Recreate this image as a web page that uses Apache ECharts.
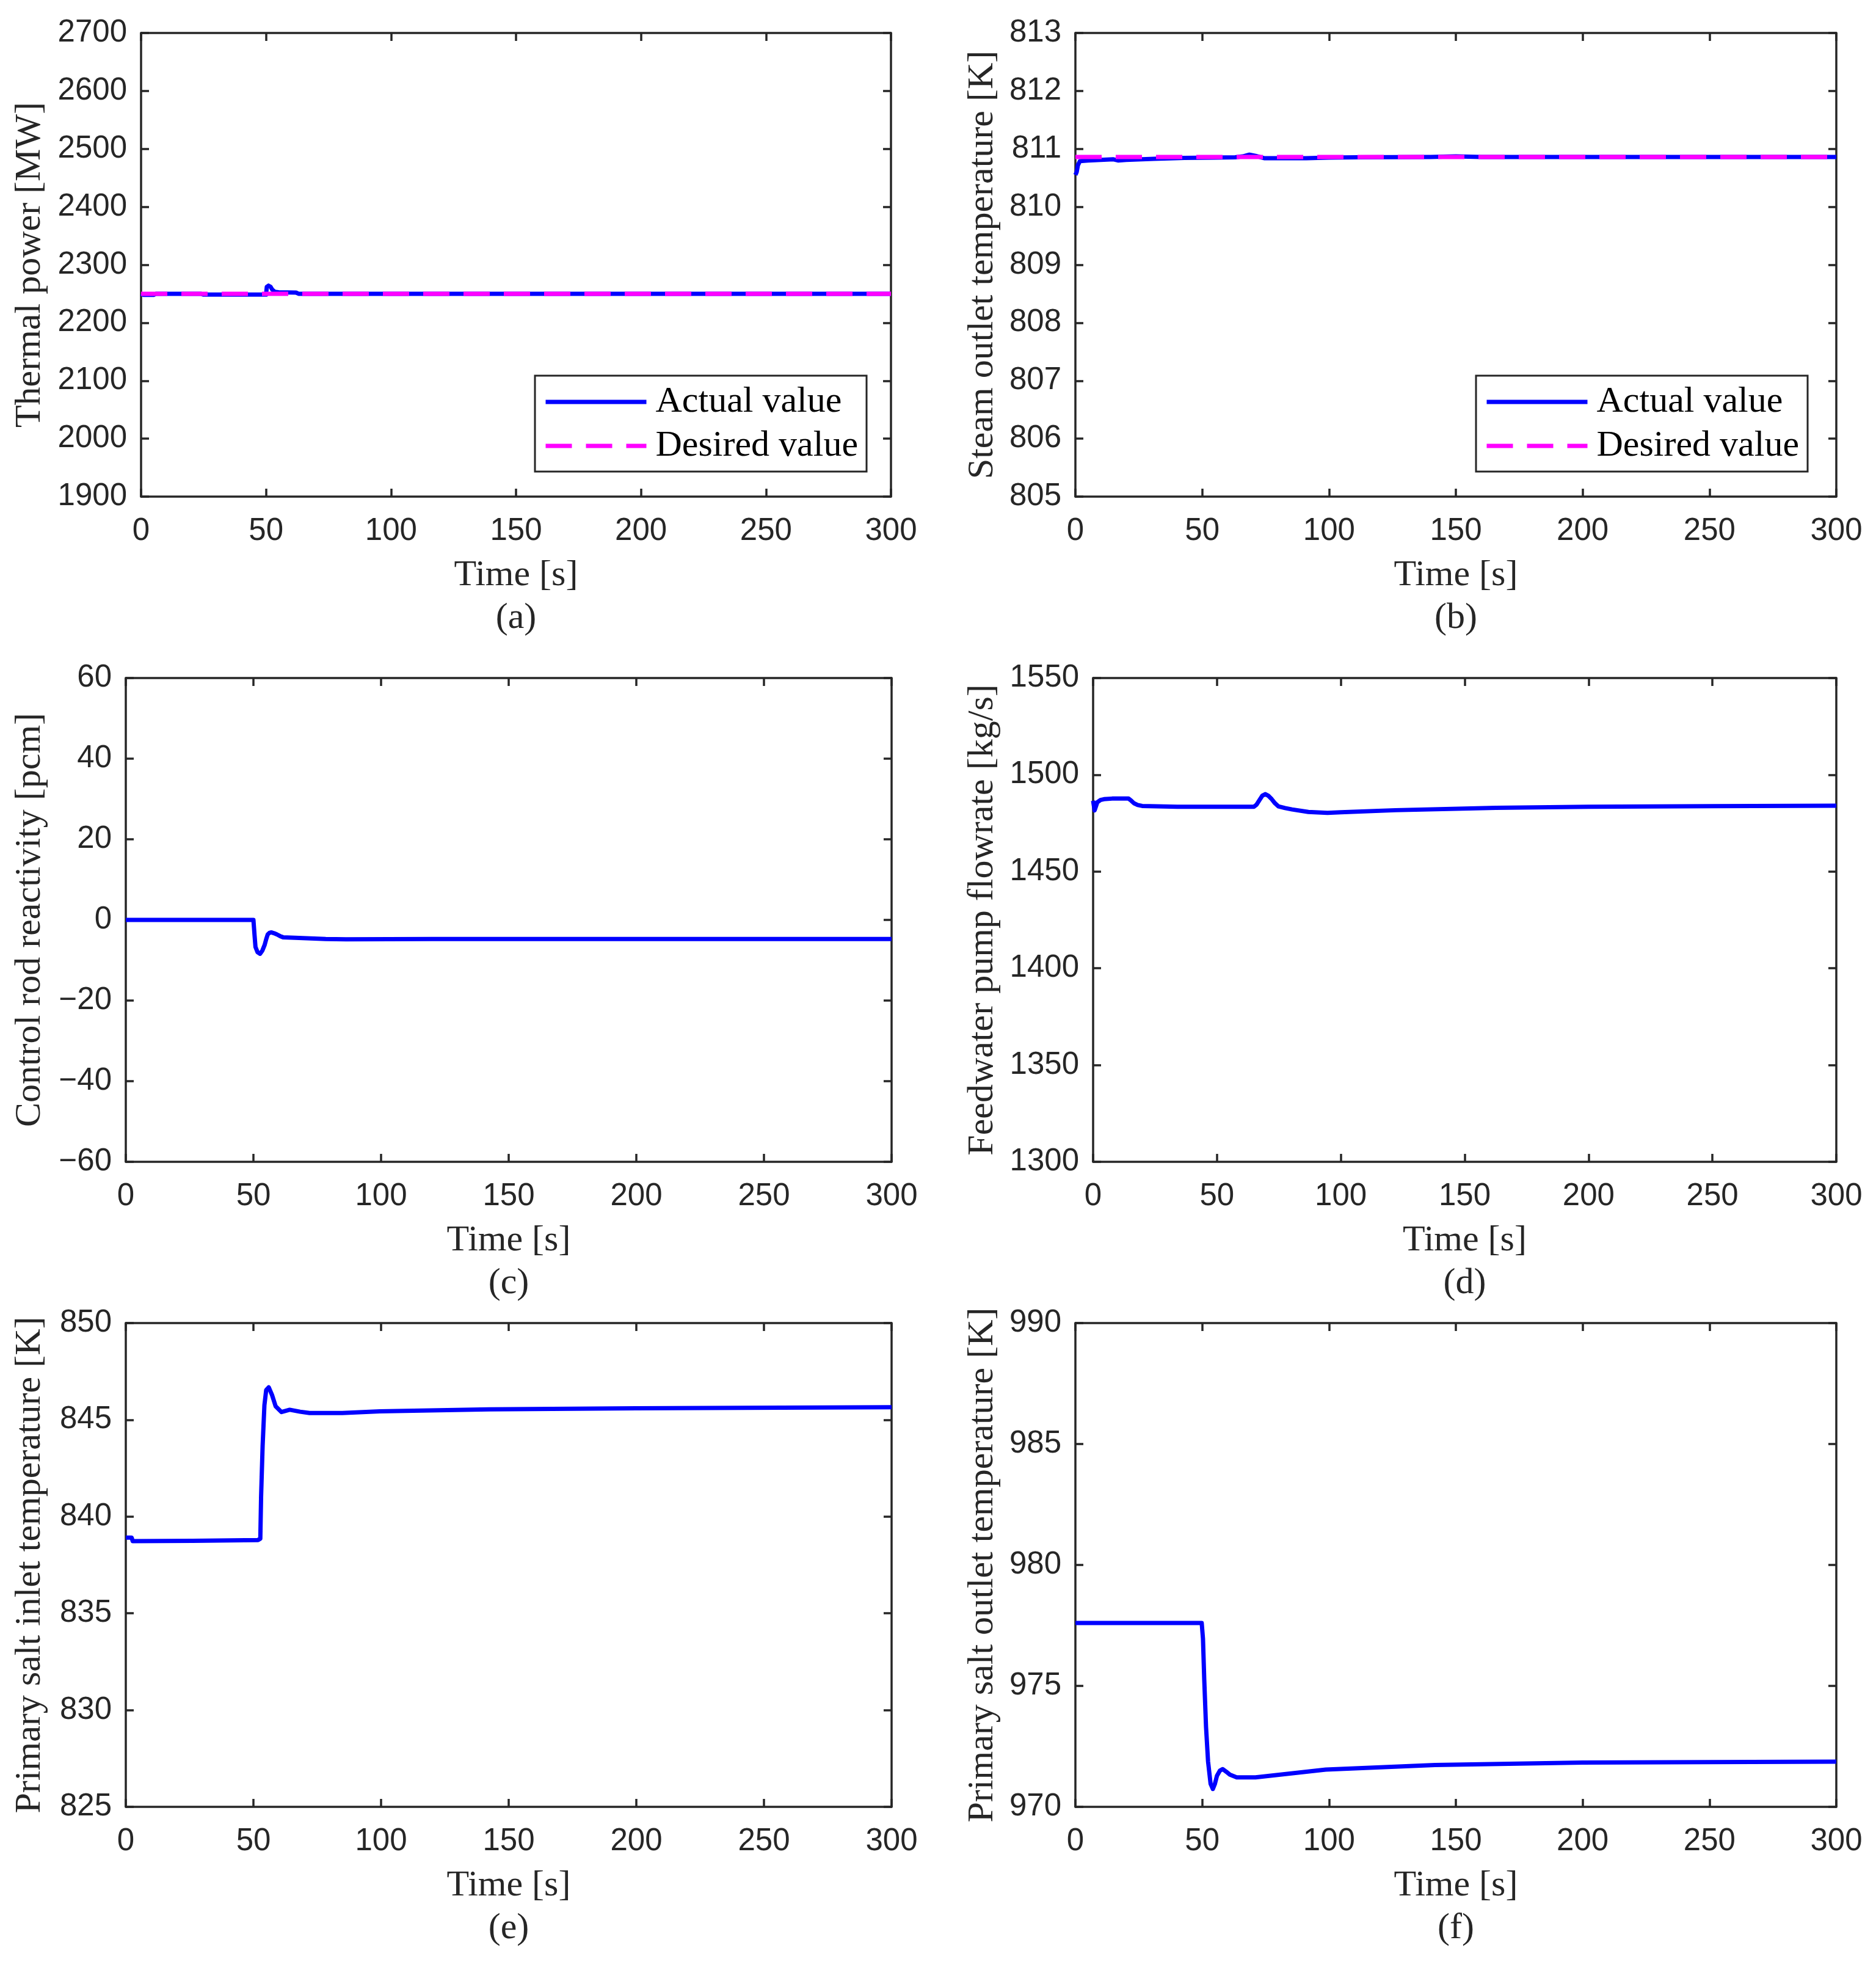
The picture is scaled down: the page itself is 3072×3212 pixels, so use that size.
<!DOCTYPE html>
<html><head><meta charset="utf-8">
<script src="https://cdn.jsdelivr.net/npm/echarts@6/dist/echarts.min.js"></script>
<style>html,body{margin:0;padding:0;background:#fff}#c{width:3072px;height:3212px}</style>
</head><body><div id="c"></div>
<script>
// ---------------- data ----------------
const legendNames = ['Actual value', 'Desired value'];
const timeDesired = [0, 300];

// (a) Thermal power [MW]
const tPower = [0, 1, 5, 6, 24, 25, 50, 50.3, 51, 51.8, 52.5, 53.5, 55, 62, 63, 100, 200, 300];
const powerActual = [2250, 2248, 2248, 2250, 2250, 2248.5, 2248.5, 2262, 2264, 2262, 2257, 2253.5, 2252.5, 2252, 2250, 2250, 2250, 2250];
const powerDesired = [2250, 2250];

// (b) Steam outlet temperature [K]
const tSteam = [0, 0.5, 1, 1.8, 5, 10, 15, 16.8, 20, 31, 43, 55, 63, 66, 68.6, 71, 74.4, 80, 91, 100, 111, 140, 150, 160, 200, 300];
const steamActual = [810.55, 810.6, 810.72, 810.79, 810.8, 810.81, 810.82, 810.8, 810.81, 810.83, 810.845, 810.85, 810.856, 810.87, 810.9, 810.88, 810.84, 810.84, 810.84, 810.85, 810.856, 810.86, 810.87, 810.86, 810.86, 810.86];
const steamDesired = [810.86, 810.86];

// (c) Control rod reactivity [pcm]
const tRod = [0, 50, 50.4, 50.8, 51.6, 52.6, 53.5, 54.4, 55.0, 55.6, 56.3, 57, 58.1, 59.2, 60.4, 61.6, 66.3, 78.3, 86.3, 120, 300];
const rodReactivity = [0, 0, -3.5, -6.7, -8.0, -8.4, -7.6, -6.2, -4.8, -3.6, -3.2, -3.1, -3.3, -3.6, -4.0, -4.3, -4.45, -4.75, -4.8, -4.75, -4.75];

// (d) Feedwater pump flowrate [kg/s]
const tFeed = [0, 0.6, 1.7, 3, 4.4, 7.7, 14.3, 15.4, 16.5, 18, 19.8, 34, 64.9, 66, 67.1, 68.3, 69.5, 70.8, 72.1, 73.4, 74.8, 77.5, 80.3, 86.9, 94.6, 100, 122, 162.6, 200, 250, 300];
const feedFlow = [1486.6, 1481.6, 1485.8, 1487, 1487.4, 1487.7, 1487.7, 1486.6, 1485.3, 1484.4, 1483.9, 1483.5, 1483.5, 1484.6, 1486.8, 1489.2, 1490, 1489.1, 1487.4, 1485.3, 1483.7, 1482.8, 1482.1, 1480.8, 1480.3, 1480.6, 1481.7, 1482.9, 1483.5, 1483.8, 1484];

// (e) Primary salt inlet temperature [K]
const tInlet = [0, 2.3, 2.7, 26.1, 51.8, 52.7, 53.0, 53.6, 54.3, 55.0, 56.0, 57.3, 58.7, 61, 64.2, 68.3, 72, 84.8, 99.5, 142.4, 200, 300];
const inletTemp = [838.91, 838.91, 838.73, 838.75, 838.79, 838.86, 841.02, 843.65, 845.75, 846.54, 846.68, 846.28, 845.7, 845.4, 845.52, 845.42, 845.35, 845.35, 845.44, 845.54, 845.6, 845.65];

// (f) Primary salt outlet temperature [K]
const tOutlet = [0, 49.8, 50.3, 50.8, 51.5, 52.3, 53.3, 54.2, 55.0, 55.8, 57.0, 58.1, 59.5, 60.9, 63.6, 71, 98.7, 141.8, 200, 300];
const outletTemp = [977.6, 977.6, 976.95, 975.26, 973.31, 971.88, 970.95, 970.74, 970.95, 971.28, 971.5, 971.56, 971.45, 971.33, 971.22, 971.22, 971.54, 971.73, 971.83, 971.87];

// ---------------- layout ----------------
const panels = [
  {t: tPower, v: powerActual, d: powerDesired, yMin: 1900, yMax: 2700, yInt: 100, yName: 'Thermal power [MW]', sub: '(a)',
   grid: {left: 231, top: 54, width: 1228, height: 759}, yGap: 152, legend: {left: 876, top: 615}},
  {t: tSteam, v: steamActual, d: steamDesired, yMin: 805, yMax: 813, yInt: 1, yName: 'Steam outlet temperature [K]', sub: '(b)',
   grid: {left: 1761, top: 54, width: 1246, height: 759}, yGap: 122, legend: {left: 2417, top: 615}},
  {t: tRod, v: rodReactivity, yMin: -60, yMax: 60, yInt: 20, yName: 'Control rod reactivity [pcm]', sub: '(c)',
   grid: {left: 206, top: 1110, width: 1254, height: 792}, yGap: 127},
  {t: tFeed, v: feedFlow, yMin: 1300, yMax: 1550, yInt: 50, yName: 'Feedwater pump flowrate [kg/s]', sub: '(d)',
   grid: {left: 1790, top: 1110, width: 1217, height: 792}, yGap: 151},
  {t: tInlet, v: inletTemp, yMin: 825, yMax: 850, yInt: 5, yName: 'Primary salt inlet temperature [K]', sub: '(e)',
   grid: {left: 206, top: 2166, width: 1254, height: 792}, yGap: 127},
  {t: tOutlet, v: outletTemp, yMin: 970, yMax: 990, yInt: 5, yName: 'Primary salt outlet temperature [K]', sub: '(f)',
   grid: {left: 1761, top: 2166, width: 1246, height: 792}, yGap: 122}
];

const AX = '#262626';
const axisLine = {show: true, onZero: false, lineStyle: {color: AX, width: 3.5}};
const axisTick = {show: true, inside: true, length: 13, lineStyle: {color: AX, width: 3.5}};
const tickFont = {fontFamily: 'Liberation Sans', fontSize: 51, lineHeight: 51, color: AX};
const nameFont = {fontFamily: 'Liberation Serif', fontSize: 60, color: AX};

const grids = [], xAxes = [], yAxes = [], series = [], legends = [];
panels.forEach((p, i) => {
  grids.push(Object.assign({outerBoundsMode: 'none', containLabel: false}, p.grid));
  xAxes.push({type: 'value', gridIndex: i, position: 'bottom', min: 0, max: 300, interval: 50,
    axisLine, axisTick, splitLine: {show: false},
    axisLabel: Object.assign({margin: 31}, tickFont),
    name: 'Time [s]\n' + p.sub, nameLocation: 'middle', nameGap: 94,
    nameTextStyle: Object.assign({lineHeight: 70}, nameFont)});
  xAxes.push({type: 'value', gridIndex: i, position: 'top', min: 0, max: 300, interval: 50,
    axisLine, axisTick, splitLine: {show: false}, axisLabel: {show: false}});
  yAxes.push({type: 'value', gridIndex: i, position: 'left', min: p.yMin, max: p.yMax, interval: p.yInt,
    axisLine, axisTick, splitLine: {show: false},
    axisLabel: Object.assign({margin: 23, formatter: v => String(v).replace('-', '\u2212')}, tickFont),
    name: p.yName, nameLocation: 'middle', nameGap: p.yGap,
    nameTextStyle: Object.assign({lineHeight: 60}, nameFont)});
  yAxes.push({type: 'value', gridIndex: i, position: 'right', min: p.yMin, max: p.yMax, interval: p.yInt,
    axisLine, axisTick, splitLine: {show: false}, axisLabel: {show: false}});

  series.push({type: 'line', name: legendNames[0], xAxisIndex: 2 * i, yAxisIndex: 2 * i,
    data: p.t.map((t, k) => [t, p.v[k]]), symbol: 'none', showSymbol: false, z: 2,
    lineStyle: {color: '#0000ff', width: 7, join: 'round'}, itemStyle: {color: '#0000ff'}});
  if (p.d) {
    series.push({type: 'line', name: legendNames[1], xAxisIndex: 2 * i, yAxisIndex: 2 * i,
      data: timeDesired.map((t, k) => [t, p.d[k]]), symbol: 'none', showSymbol: false, z: 3,
      lineStyle: {color: '#ff00ff', width: 7, type: [43, 23]}, itemStyle: {color: '#ff00ff'}});
    legends.push({left: p.legend.left, top: p.legend.top, orient: 'vertical', data: legendNames,
      selectedMode: false, itemWidth: 165, itemHeight: 7, itemGap: 12, padding: [13, 14, 12, 14],
      borderColor: AX, borderWidth: 3, backgroundColor: '#fff',
      lineStyle: {width: 7}, itemStyle: {borderWidth: 0},
      textStyle: {fontFamily: 'Liberation Serif', fontSize: 60, lineHeight: 60, color: '#000', padding: [0, 0, 0, 10]}});
  }
});

const chart = echarts.init(document.getElementById('c'), null, {renderer: 'canvas'});
chart.setOption({
  animation: false,
  backgroundColor: '#fff',
  grid: grids, xAxis: xAxes, yAxis: yAxes, series, legend: legends
});
</script></body></html>
